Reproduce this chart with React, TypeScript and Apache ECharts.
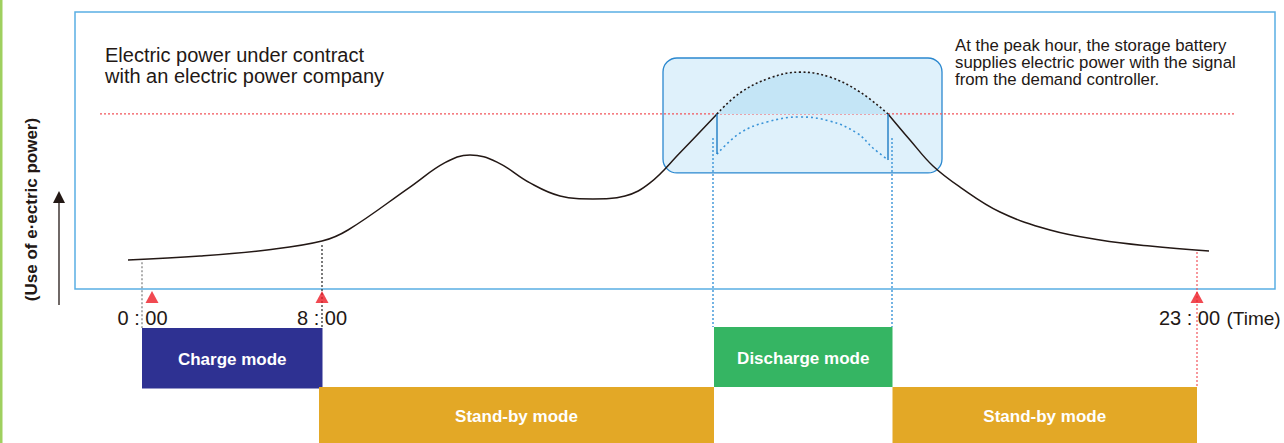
import React, { useEffect, useRef } from "react";
import * as echarts from "echarts";

// Abstract diagram coordinates: x = timeline position (0..120 across the framed area),
// y = electric power use (0..100 inside the frame; negative values lie below it).
const demandBefore: number[][] = [
  [5.3, 10.5], [12.5, 11.9], [19.2, 14.1], [24.7, 17.3], [27.3, 21.3],
  [33.5, 36.8], [37.0, 45.6], [39.5, 48.4], [42.2, 45.8], [45.5, 38.3],
  [48.5, 33.6], [51.8, 32.5], [55.0, 33.6], [57.5, 38.3], [60.5, 49.2], [64.2, 63.2],
];
const demandPeak: number[][] = [
  [64.2, 63.2], [66.5, 70.8], [69.5, 76.2], [72.5, 78.3], [75.5, 76.5], [78.5, 71.1], [81.3, 63.2],
];
const demandAfter: number[][] = [
  [81.3, 63.2], [83.5, 53.8], [85.8, 44.4], [88.5, 36.8], [92.5, 27.8], [97.5, 21.3],
  [102.5, 17.7], [107.5, 15.5], [113.4, 13.7],
];
const batteryCurve: number[][] = [
  [64.2, 48.7], [66.5, 56.3], [69.2, 60.3], [72.5, 62.1], [75.5, 60.6], [78.2, 56.3],
  [79.8, 50.9], [81.3, 46.6],
];
const contractLevel = 63.2;
const contractSpan = [2.5, 116];
const peakWindowX = [58.8, 86.7];
const peakWindowY = [41.9, 83.4];
const dischargeGuideX = [63.8, 81.7];
const dischargeGuideY = [54.5, -13.7];

const timeLabels = ["0 : 00", "8 : 00", "23 : 00"];
const timeLabelX = [6.75, 24.7, 111.45];
const markerX = [7.7, 24.7, 112.2];
const guideX = [6.7, 24.7, 112.2];
const guideTop = [9.7, 15.9, 13.4];
const guideBottom = [-14.1, -14.1, -35.4];
const guideColor = ["#7a7a7a", "#222222", "#f2545b"];

const modeNames = ["Charge mode", "Discharge mode", "Stand-by mode", "Stand-by mode"];
const modeStart = [6.7, 63.9, 24.4, 81.75];
const modeEnd = [24.75, 81.75, 63.9, 112.2];
const modeTop = [-14.1, -13.7, -35.4, -35.4];
const modeBottom = [-35.9, -35.4, -55.6, -55.6];
const modeColor = ["#2e3192", "#35b563", "#e3a826", "#e3a826"];

const FONT = "'Liberation Sans', Arial, sans-serif";

function segLine(data: number[][], color: string, type: any, width: number, z: number, extra: any = {}) {
  return {
    type: "line",
    data,
    showSymbol: false,
    symbol: "none",
    clip: false,
    silent: true,
    z,
    lineStyle: { color, type, width },
    ...extra,
  };
}

export default function App() {
  const ref = useRef<HTMLDivElement>(null);
  useEffect(() => {
    document.body.style.margin = "0";
    const chart = echarts.init(ref.current!, undefined, { renderer: "svg" });
    const series: any[] = [];

    series.push({
      type: "custom",
      z: 1,
      silent: true,
      data: [[peakWindowX[0], peakWindowY[1], peakWindowX[1], peakWindowY[0]]],
      encode: { x: [0, 2], y: [1, 3] },
      renderItem: (_p: any, api: any) => {
        const a = api.coord([api.value(0), api.value(1)]);
        const b = api.coord([api.value(2), api.value(3)]);
        return {
          type: "rect",
          shape: { x: a[0], y: a[1], width: b[0] - a[0], height: b[1] - a[1], r: 14 },
          style: { fill: "#dff1fb", stroke: "#2b88cf", lineWidth: 1.3 },
        };
      },
    });

    series.push(
      segLine(demandPeak, "#231815", [2, 2.5], 1.6, 3, {
        smooth: 0.4,
        areaStyle: { color: "#c4e5f6", opacity: 1, origin: contractLevel },
      })
    );
    series.push(segLine(demandBefore, "#231815", "solid", 1.5, 4, { smooth: 0.4 }));
    series.push(segLine(demandAfter, "#231815", "solid", 1.5, 4, { smooth: 0.4 }));

    series.push(
      segLine(
        [[contractSpan[0], contractLevel], [contractSpan[1], contractLevel]],
        "#f2545b",
        [2, 2],
        1.2,
        2
      )
    );

    series.push(segLine(batteryCurve, "#3a94d8", [2, 3], 1.6, 4, { smooth: 0.4 }));
    const bFirst = batteryCurve[0];
    const bLast = batteryCurve[batteryCurve.length - 1];
    series.push(segLine([[bFirst[0], contractLevel], bFirst], "#1f7cc4", "solid", 1.4, 4));
    series.push(segLine([[bLast[0], contractLevel], bLast], "#1f7cc4", "solid", 1.4, 4));

    dischargeGuideX.forEach((x) => {
      series.push(segLine([[x, dischargeGuideY[0]], [x, dischargeGuideY[1]]], "#3a94d8", [2, 2], 1.4, 2));
    });

    guideX.forEach((x, i) => {
      series.push(segLine([[x, guideTop[i]], [x, guideBottom[i]]], guideColor[i], [2, 2], 1.2, 2));
    });

    series.push({
      type: "scatter",
      clip: false,
      silent: true,
      z: 5,
      symbol: "triangle",
      symbolSize: [13, 12],
      itemStyle: { color: "#ee1c25" },
      data: markerX.map((x) => [x, -2.9]),
    });

    series.push({
      type: "custom",
      z: 5,
      silent: true,
      data: timeLabelX.map((x, i) => [x, -10.5, i]),
      encode: { x: 0, y: 1 },
      renderItem: (_p: any, api: any) => {
        const i = api.value(2);
        const p = api.coord([api.value(0), api.value(1)]);
        const children: any[] = [
          {
            type: "text",
            style: {
              text: timeLabels[i],
              x: p[0],
              y: p[1],
              align: "center",
              verticalAlign: "middle",
              textAlign: "center",
              textVerticalAlign: "middle",
              fill: "#231815",
              fontSize: 20,
              fontFamily: FONT,
            },
          },
        ];
        if (i === timeLabels.length - 1) {
          children.push({
            type: "text",
            style: {
              text: "(Time)",
              x: p[0] + 37,
              y: p[1],
              align: "left",
              verticalAlign: "middle",
              textAlign: "left",
              textVerticalAlign: "middle",
              fill: "#231815",
              fontSize: 19,
              fontFamily: FONT,
            },
          });
        }
        return { type: "group", children };
      },
    });

    series.push({
      type: "custom",
      z: 6,
      silent: true,
      data: modeNames.map((_, i) => [modeStart[i], modeTop[i], modeEnd[i], modeBottom[i], i]),
      encode: { x: [0, 2], y: [1, 3] },
      renderItem: (_p: any, api: any) => {
        const i = api.value(4);
        const a = api.coord([api.value(0), api.value(1)]);
        const b = api.coord([api.value(2), api.value(3)]);
        return {
          type: "group",
          children: [
            {
              type: "rect",
              shape: { x: a[0], y: a[1], width: b[0] - a[0], height: b[1] - a[1] },
              style: { fill: modeColor[i] },
            },
            {
              type: "text",
              style: {
                text: modeNames[i],
                x: (a[0] + b[0]) / 2,
                y: (a[1] + b[1]) / 2 + 1,
                align: "center",
                verticalAlign: "middle",
                textAlign: "center",
                textVerticalAlign: "middle",
                fill: "#ffffff",
                fontSize: 17,
                fontWeight: "bold",
                fontFamily: FONT,
              },
            },
          ],
        };
      },
    });

    chart.setOption({
      animation: false,
      grid: {
        left: 75,
        right: 9,
        top: 12,
        bottom: 154,
        show: true,
        borderColor: "#5aaee3",
        borderWidth: 1.5,
        backgroundColor: "transparent",
      },
      xAxis: { type: "value", min: 0, max: 120, show: false },
      yAxis: { type: "value", min: 0, max: 100, show: false },
      graphic: [
        { type: "rect", shape: { x: 0, y: 0, width: 2.5, height: 443 }, style: { fill: "#9fd05f" } },
        {
          type: "text",
          x: 31,
          y: 209.5,
          rotation: Math.PI / 2,
          style: {
            text: "(Use of e·ectric power)",
            align: "center",
            verticalAlign: "middle",
            textAlign: "center",
            textVerticalAlign: "middle",
            fill: "#231815",
            fontSize: 17,
            fontWeight: "bold",
            fontFamily: FONT,
          },
        },
        { type: "line", shape: { x1: 59, y1: 305, x2: 59, y2: 200 }, style: { stroke: "#231815", lineWidth: 1.3 } },
        {
          type: "polygon",
          shape: { points: [[53, 203], [59, 191], [65, 203]] },
          style: { fill: "#231815" },
        },
        {
          type: "text",
          x: 105,
          y: 55,
          style: {
            text: "Electric power under contract",
            verticalAlign: "middle",
            textVerticalAlign: "middle",
            fill: "#231815",
            fontSize: 20,
            fontFamily: FONT,
          },
        },
        {
          type: "text",
          x: 105,
          y: 76,
          style: {
            text: "with an electric power company",
            verticalAlign: "middle",
            textVerticalAlign: "middle",
            fill: "#231815",
            fontSize: 20,
            fontFamily: FONT,
          },
        },
        ...[
          "At the peak hour, the storage battery",
          "supplies electric power with the signal",
          "from the demand controller.",
        ].map((t, i) => ({
          type: "text",
          x: 955,
          y: 45 + i * 17.3,
          style: {
            text: t,
            verticalAlign: "middle",
            textVerticalAlign: "middle",
            fill: "#231815",
            fontSize: 16.8,
            fontFamily: FONT,
          },
        })),
      ],
      series,
    });
    return () => chart.dispose();
  }, []);
  return <div ref={ref} style={{ width: 1284, height: 443 }} />;
}
